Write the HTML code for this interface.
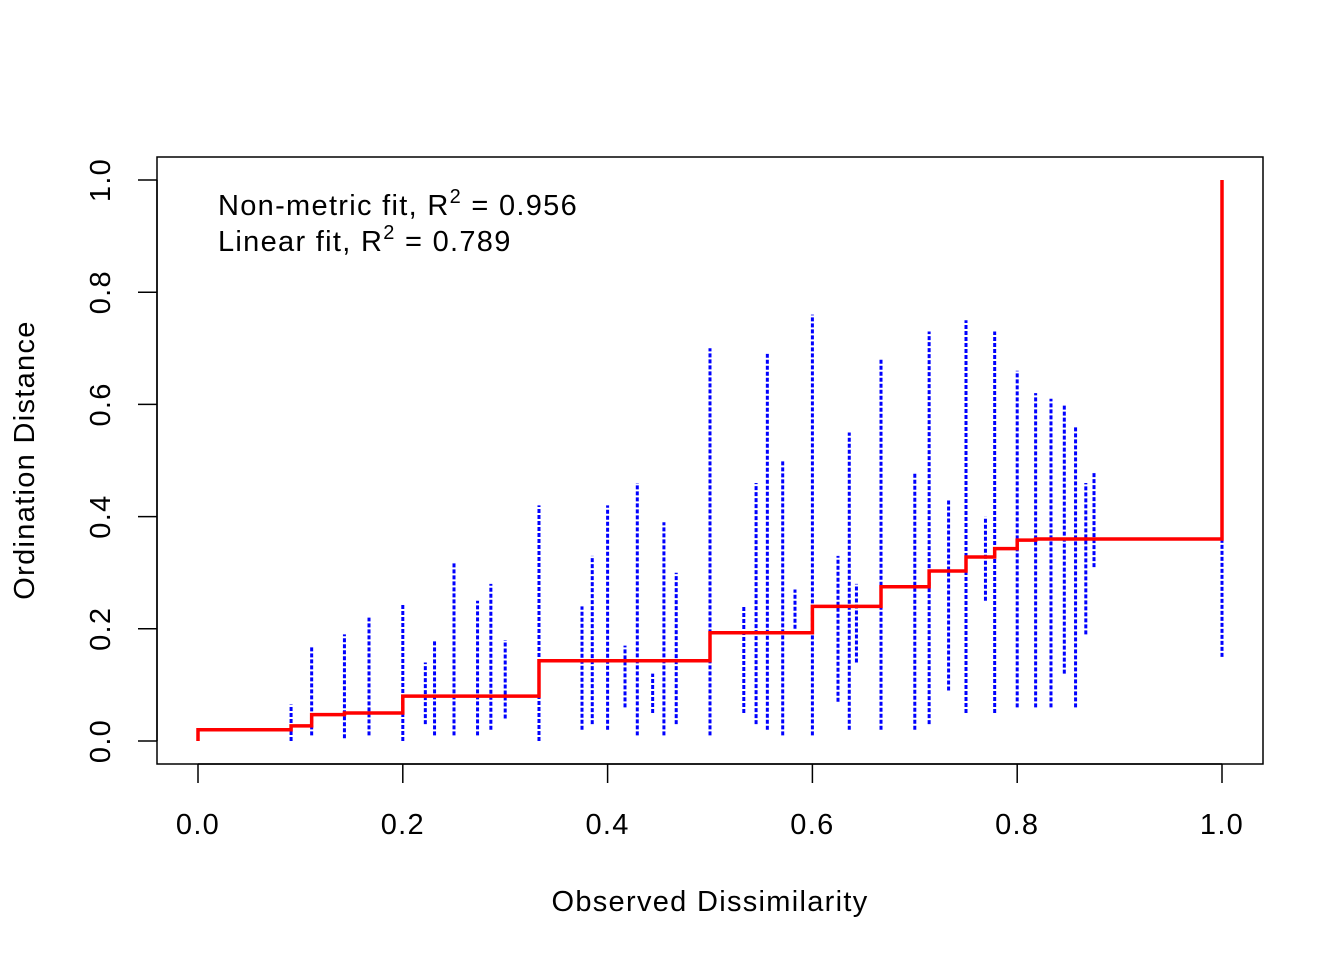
<!DOCTYPE html>
<html><head><meta charset="utf-8"><style>
body{margin:0;background:#fff}
svg text{font-family:"Liberation Sans",sans-serif;fill:#000;letter-spacing:1.3px}
</style></head><body>
<svg id="c" width="1344" height="960">
<rect x="157" y="157" width="1106" height="607" fill="none" stroke="#000" stroke-width="1.5"/>
<g id="pts"></g>
<g id="fit"></g>
<g id="axes"></g>
<text x="218" y="215" font-size="29">Non-metric fit, R<tspan dy="-12" font-size="20">2</tspan><tspan dy="12"> = 0.956</tspan></text>
<text x="218" y="251" font-size="29">Linear fit, R<tspan dy="-12" font-size="20">2</tspan><tspan dy="12"> = 0.789</tspan></text>
<text x="710" y="911" font-size="29" text-anchor="middle">Observed Dissimilarity</text>
<text transform="translate(34,460) rotate(-90)" font-size="29" text-anchor="middle">Ordination Distance</text>
</svg>
<script>
const colX=[0.0909,0.111,0.143,0.167,0.2,0.222,0.231,0.25,0.273,0.286,0.3,0.333,0.375,0.385,0.4,0.417,0.429,0.444,0.455,0.467,0.5,0.533,0.545,0.556,0.571,0.583,0.6,0.625,0.636,0.643,0.667,0.7,0.714,0.733,0.75,0.769,0.778,0.8,0.818,0.833,0.846,0.857,0.867,0.875,1.0];
const colLo=[0.0,0.01,0.005,0.01,0.0,0.03,0.01,0.01,0.01,0.02,0.04,0.0,0.02,0.03,0.02,0.06,0.01,0.05,0.01,0.03,0.01,0.05,0.03,0.02,0.01,0.2,0.01,0.07,0.02,0.14,0.02,0.02,0.03,0.09,0.05,0.25,0.05,0.06,0.06,0.06,0.12,0.06,0.19,0.31,0.15];
const colHi=[0.065,0.17,0.19,0.22,0.245,0.14,0.18,0.32,0.25,0.28,0.18,0.42,0.24,0.33,0.42,0.17,0.46,0.12,0.39,0.3,0.70,0.24,0.46,0.69,0.5,0.27,0.76,0.33,0.55,0.28,0.68,0.48,0.73,0.43,0.75,0.4,0.73,0.66,0.62,0.61,0.6,0.56,0.46,0.48,0.36];
const stepX=[0,0.0909,0.111,0.143,0.2,0.333,0.5,0.6,0.667,0.714,0.75,0.778,0.8,0.818,1.0];
const stepY=[0.02,0.027,0.047,0.05,0.08,0.143,0.193,0.24,0.275,0.303,0.328,0.343,0.358,0.36,1.0];
const xTicks=["0.0","0.2","0.4","0.6","0.8","1.0"];
const yTicks=["0.0","0.2","0.4","0.6","0.8","1.0"];
const sx=v=>198+v*1024, sy=v=>741-v*561;
const NS="http://www.w3.org/2000/svg";
function mk(t,a,p){const e=document.createElementNS(NS,t);for(const k in a)e.setAttribute(k,a[k]);p.appendChild(e);return e;}
const pts=document.getElementById('pts');
colX.forEach((x,i)=>{
  const l=mk('line',{x1:sx(x),x2:sx(x),y1:sy(colLo[i]),y2:sy(colHi[i]),stroke:'#0000ff','stroke-width':3,'stroke-dasharray':'4,2'},pts);
  
  
});
const fit=document.getElementById('fit');
let d=`M${sx(0)},${sy(0)} L${sx(0)},${sy(stepY[0])}`;
for(let i=1;i<stepX.length;i++){d+=` L${sx(stepX[i])},${sy(stepY[i-1])} L${sx(stepX[i])},${sy(stepY[i])}`;}
const p=mk('path',{d:d,fill:'none',stroke:'#ff0000','stroke-width':3.5},fit);


const ax=document.getElementById('axes');
mk('line',{x1:sx(0),x2:sx(1),y1:764,y2:764,stroke:'#000','stroke-width':1.5},ax);
mk('line',{x1:157,x2:157,y1:sy(0),y2:sy(1),stroke:'#000','stroke-width':1.5},ax);
xTicks.forEach((t,i)=>{const v=i*0.2;
  mk('line',{x1:sx(v),x2:sx(v),y1:764,y2:783,stroke:'#000','stroke-width':1.5},ax);
  const e=mk('text',{x:sx(v),y:834,'font-size':29,'text-anchor':'middle'},ax);e.textContent=t;
  
  
});
yTicks.forEach((t,i)=>{const v=i*0.2;
  mk('line',{x1:138,x2:157,y1:sy(v),y2:sy(v),stroke:'#000','stroke-width':1.5},ax);
  const e=mk('text',{transform:`translate(110,${sy(v)}) rotate(-90)`,'font-size':29,'text-anchor':'middle'},ax);e.textContent=t;
  
  
});
</script>
</body></html>
